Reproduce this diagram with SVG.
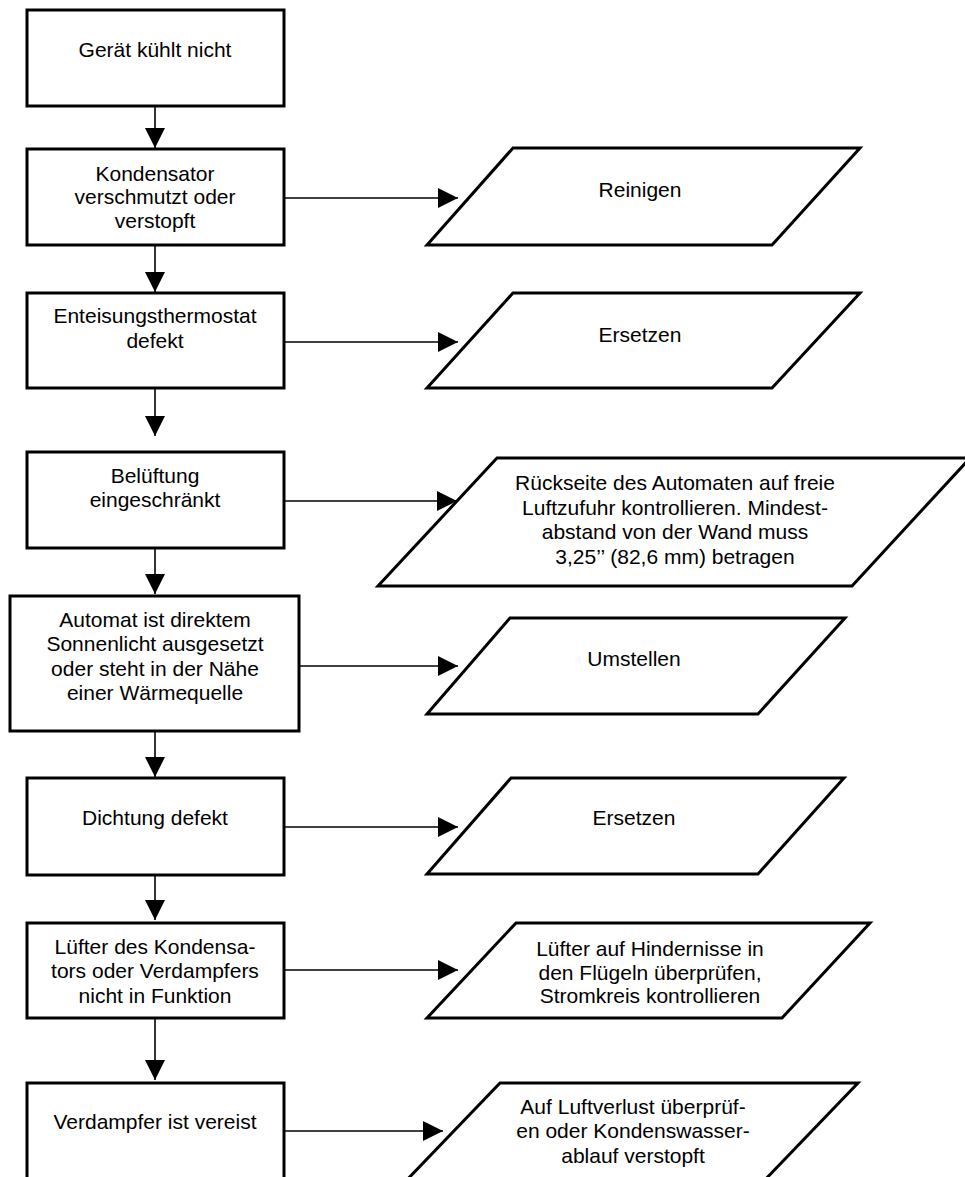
<svg xmlns="http://www.w3.org/2000/svg" width="965" height="1177" viewBox="0 0 965 1177">
  <defs>
    <marker id="arrow" viewBox="0 0 20 20" refX="20" refY="10" markerWidth="20" markerHeight="20" markerUnits="userSpaceOnUse" orient="auto">
      <path d="M0,0 L20,10 L0,20 Z" fill="#000"/>
    </marker>
    <style>
      .box { fill: #fff; stroke: #000; stroke-width: 3; }
      .io { fill: #fff; stroke: #000; stroke-width: 3; stroke-linejoin: miter; }
      .link { fill: none; stroke: #000; stroke-width: 1.6; marker-end: url(#arrow); }
      text { font-family: "Liberation Sans", Arial, sans-serif; font-size: 21px; fill: #000; text-anchor: middle; }
    </style>
  </defs>
  <rect width="965" height="1177" fill="#fff"/>

  <!-- connectors -->
  <g id="connectors">
    <line class="link" x1="155" y1="100" x2="155" y2="148"/>
    <line class="link" x1="155" y1="245" x2="155" y2="292"/>
    <line class="link" x1="155" y1="388" x2="155" y2="436"/>
    <line class="link" x1="155" y1="548" x2="155" y2="594"/>
    <line class="link" x1="155" y1="731" x2="155" y2="777"/>
    <line class="link" x1="155" y1="875" x2="155" y2="920"/>
    <line class="link" x1="155" y1="1018" x2="155" y2="1080"/>

    <line class="link" x1="284" y1="198" x2="458" y2="198"/>
    <line class="link" x1="284" y1="342" x2="458" y2="342"/>
    <line class="link" x1="284" y1="501" x2="457" y2="501"/>
    <line class="link" x1="299" y1="666" x2="458" y2="666"/>
    <line class="link" x1="284" y1="827" x2="458" y2="827"/>
    <line class="link" x1="284" y1="970" x2="458" y2="970"/>
    <line class="link" x1="284" y1="1131" x2="443" y2="1131"/>
  </g>

  <!-- causes -->
  <g id="n-geraet">
    <rect class="box" x="27" y="10" width="257" height="96"/>
    <text x="155" y="57">Gerät kühlt nicht</text>
  </g>
  <g id="n-kondensator">
    <rect class="box" x="27" y="149" width="257" height="96"/>
    <text x="155" y="181">Kondensator</text>
    <text x="155" y="204">verschmutzt oder</text>
    <text x="155" y="228">verstopft</text>
  </g>
  <g id="n-thermostat">
    <rect class="box" x="27" y="293" width="257" height="95"/>
    <text x="155" y="323">Enteisungsthermostat</text>
    <text x="155" y="348">defekt</text>
  </g>
  <g id="n-belueftung">
    <rect class="box" x="27" y="452" width="257" height="96"/>
    <text x="155" y="483">Belüftung</text>
    <text x="155" y="507">eingeschränkt</text>
  </g>
  <g id="n-sonnenlicht">
    <rect class="box" x="10" y="596" width="289" height="135"/>
    <text x="155" y="627">Automat ist direktem</text>
    <text x="155" y="651">Sonnenlicht ausgesetzt</text>
    <text x="155" y="676">oder steht in der Nähe</text>
    <text x="155" y="700">einer Wärmequelle</text>
  </g>
  <g id="n-dichtung">
    <rect class="box" x="27" y="778" width="257" height="97"/>
    <text x="155" y="825">Dichtung defekt</text>
  </g>
  <g id="n-luefter">
    <rect class="box" x="27" y="923" width="257" height="95"/>
    <text x="155" y="954">Lüfter des Kondensa-</text>
    <text x="155" y="978">tors oder Verdampfers</text>
    <text x="155" y="1003">nicht in Funktion</text>
  </g>
  <g id="n-verdampfer">
    <rect class="box" x="27" y="1083" width="257" height="110"/>
    <text x="155" y="1129">Verdampfer ist vereist</text>
  </g>

  <!-- remedies -->
  <g id="r-reinigen">
    <polygon class="io" points="513,148 860,148 772,245 427,245"/>
    <text x="640" y="197">Reinigen</text>
  </g>
  <g id="r-ersetzen-1">
    <polygon class="io" points="513,293 860,293 772,388 427,388"/>
    <text x="640" y="342">Ersetzen</text>
  </g>
  <g id="r-rueckseite">
    <polygon class="io" points="497,458 970,458 852,586 378,586"/>
    <text x="675" y="490">Rückseite des Automaten auf freie</text>
    <text x="675" y="515">Luftzufuhr kontrollieren. Mindest-</text>
    <text x="675" y="539">abstand von der Wand muss</text>
    <text x="675" y="564">3,25’’ (82,6 mm) betragen</text>
  </g>
  <g id="r-umstellen">
    <polygon class="io" points="510,618 845,618 758,714 427,714"/>
    <text x="634" y="666">Umstellen</text>
  </g>
  <g id="r-ersetzen-2">
    <polygon class="io" points="511,778 844,778 758,874 427,874"/>
    <text x="634" y="825">Ersetzen</text>
  </g>
  <g id="r-luefter">
    <polygon class="io" points="516,923 870,923 782,1018 427,1018"/>
    <text x="650" y="956">Lüfter auf Hindernisse in</text>
    <text x="650" y="980">den Flügeln überprüfen,</text>
    <text x="650" y="1003">Stromkreis kontrollieren</text>
  </g>
  <g id="r-luftverlust">
    <polygon class="io" points="500,1083 858,1083 760,1185 402,1185"/>
    <text x="633" y="1114">Auf Luftverlust überprüf-</text>
    <text x="633" y="1138">en oder Kondenswasser-</text>
    <text x="633" y="1163">ablauf verstopft</text>
  </g>
</svg>
